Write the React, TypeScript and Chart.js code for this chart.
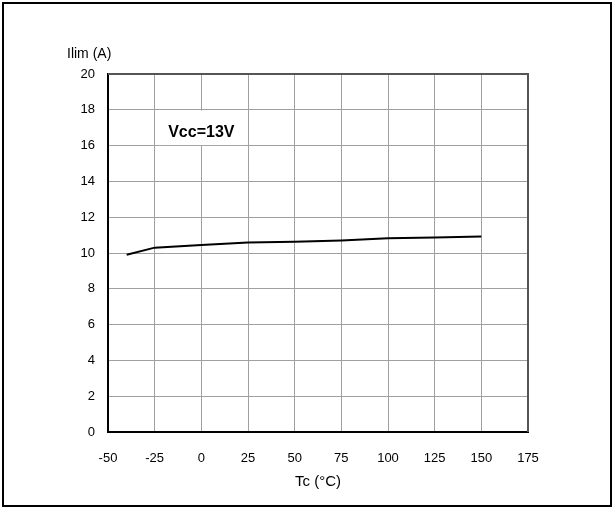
import React, { useEffect, useRef } from "react";
import { Chart, registerables } from "chart.js";

Chart.register(...registerables);

const tempC = [-40, -25, 0, 25, 50, 75, 100, 125, 150];
const ilimA = [9.9, 10.3, 10.45, 10.58, 10.63, 10.7, 10.82, 10.87, 10.92];
const xTicks = [-50, -25, 0, 25, 50, 75, 100, 125, 150, 175];
const yTicks = [0, 2, 4, 6, 8, 10, 12, 14, 16, 18, 20];
const yTitle = "Ilim (A)";
const xTitle = "Tc (°C)";
const note = "Vcc=13V";

const FONT = "'Liberation Sans', Arial, sans-serif";

export default function App() {
  const ref = useRef<HTMLCanvasElement | null>(null);

  useEffect(() => {
    document.body.style.margin = "0";
    const canvas = ref.current;
    if (!canvas) return;

    const decor = {
      id: "decor",
      beforeDatasetsDraw(chart: any) {
        const { ctx, scales } = chart;
        const x = scales.x;
        const y = scales.y;
        const x0 = x.getPixelForValue(-25) + 1.5;
        const x1 = x.getPixelForValue(22.5);
        const y0 = y.getPixelForValue(17.95);
        const y1 = y.getPixelForValue(16.03);
        ctx.save();
        ctx.fillStyle = "#ffffff";
        ctx.fillRect(x0, y0, x1 - x0, y1 - y0);
        ctx.fillStyle = "#000000";
        ctx.font = `bold 16px ${FONT}`;
        ctx.textAlign = "center";
        ctx.textBaseline = "middle";
        ctx.fillText(note, x.getPixelForValue(0), y.getPixelForValue(16.72));
        ctx.restore();
      },
      afterDraw(chart: any) {
        const { ctx, chartArea: a } = chart;
        ctx.save();
        ctx.strokeStyle = "#555555";
        ctx.lineWidth = 2;
        ctx.beginPath();
        ctx.moveTo(a.left, a.top);
        ctx.lineTo(a.right, a.top);
        ctx.lineTo(a.right, a.bottom);
        ctx.stroke();
        ctx.fillStyle = "#000000";
        ctx.font = `14px ${FONT}`;
        ctx.textAlign = "left";
        ctx.textBaseline = "middle";
        ctx.fillText(yTitle, 67, 54);
        ctx.font = `15px ${FONT}`;
        ctx.textAlign = "center";
        ctx.fillText(xTitle, (a.left + a.right) / 2, 482);
        ctx.strokeStyle = "#000000";
        ctx.lineWidth = 2;
        ctx.strokeRect(3, 3, 608, 503);
        ctx.restore();
      },
    };

    const chart = new Chart(canvas, {
      type: "line",
      data: {
        datasets: [
          {
            data: tempC.map((t, i) => ({ x: t, y: ilimA[i] })),
            borderColor: "#000000",
            borderWidth: 2,
            pointRadius: 0,
            tension: 0,
            fill: false,
          },
        ],
      },
      options: {
        animation: false,
        responsive: false,
        devicePixelRatio: 1,
        layout: { padding: { left: 8, top: 74, right: 86, bottom: 10 } },
        plugins: { legend: { display: false }, tooltip: { enabled: false } },
        scales: {
          x: {
            type: "linear",
            min: xTicks[0],
            max: xTicks[xTicks.length - 1],
            afterBuildTicks: (s: any) => {
              s.ticks = xTicks.map((v) => ({ value: v }));
            },
            afterFit: (s: any) => {
              s.height = 66;
            },
            ticks: {
              padding: 19,
              color: "#000000",
              font: { family: FONT, size: 13 },
              maxRotation: 0,
              autoSkip: false,
            },
            grid: { color: "#a0a0a0", lineWidth: 1, drawTicks: false },
            border: { color: "#000000", width: 2 },
          },
          y: {
            type: "linear",
            min: yTicks[0],
            max: yTicks[yTicks.length - 1],
            afterBuildTicks: (s: any) => {
              s.ticks = yTicks.map((v) => ({ value: v }));
            },
            afterFit: (s: any) => {
              s.width = 100;
            },
            ticks: {
              padding: 13,
              color: "#000000",
              font: { family: FONT, size: 13 },
              autoSkip: false,
            },
            grid: { color: "#a0a0a0", lineWidth: 1, drawTicks: false },
            border: { color: "#000000", width: 2 },
          },
        },
      },
      plugins: [decor],
    } as any);

    return () => chart.destroy();
  }, []);

  return (
    <div style={{ width: 614, height: 508 }}>
      <canvas ref={ref} width={614} height={508} style={{ display: "block", width: 614, height: 508 }} />
    </div>
  );
}
